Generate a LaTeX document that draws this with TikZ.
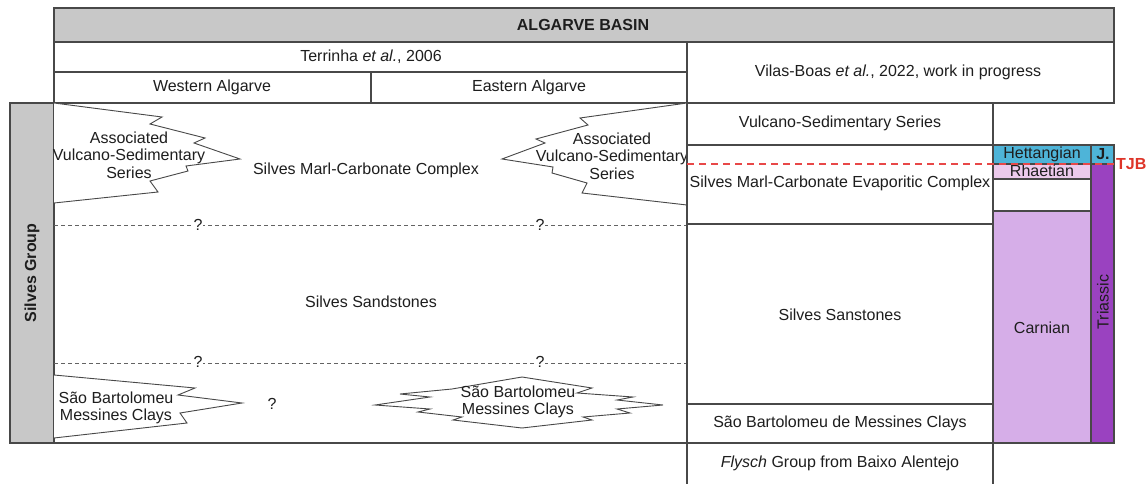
\documentclass[tikz,border=0pt]{standalone}
\usepackage{fontspec}
\setmainfont{Liberation Sans}
\definecolor{linegray}{RGB}{72,72,72}
\definecolor{headgray}{RGB}{200,200,200}
\definecolor{txtgray}{RGB}{30,30,30}
\definecolor{hettblue}{RGB}{78,180,216}
\definecolor{rhaetpink}{RGB}{236,202,236}
\definecolor{carnlilac}{RGB}{214,174,232}
\definecolor{triaspurple}{RGB}{154,66,192}
\definecolor{tjbred}{RGB}{222,52,40}
\definecolor{tjbdash}{RGB}{232,72,72}
\begin{document}
\begin{tikzpicture}[x=1pt,y=-1pt,
  cell/.style={draw=linegray, line width=1.1pt},
  zig/.style={draw=linegray, line width=0.9pt, fill=white, line join=miter},
  txt/.style={font=\fontsize{16}{17.5}\selectfont, text=txtgray, inner sep=0pt, align=center},
  btxt/.style={txt, font=\fontsize{16}{17.5}\selectfont\bfseries},
  qmark/.style={txt, fill=white, inner sep=1pt},
  unsure/.style={draw=linegray!85, line width=0.8pt, dash pattern=on 4pt off 3pt}]

\useasboundingbox (0,0) rectangle (1148,484);
\fill[white] (0,0) rectangle (1148,484);

% header rows
\draw[cell, fill=headgray] (54,8) rectangle (1114,42);
\node[btxt] (basin) at (583,25) {ALGARVE BASIN};
\draw[cell] (54,42) rectangle (687,72);
\node[txt] (terrinha) at (371,57) {Terrinha \textit{et al.}, 2006};
\draw[cell] (54,72) rectangle (371,103);
\draw[cell] (371,72) rectangle (687,103);
\node[txt] (west) at (212,87) {Western Algarve};
\node[txt] (east) at (529,87) {Eastern Algarve};
\draw[cell] (687,42) rectangle (1114,103);
\node[txt] (vilas) at (898,72) {Vilas-Boas \textit{et al.}, 2022, work in progress};

% Silves Group column and left correlation panel
\draw[cell, fill=headgray] (10,103) rectangle (54,443);
\node[btxt, rotate=90] (silvesgroup) at (32,273) {Silves Group};
\draw[cell] (54,103) rectangle (687,443);

% interfingering wedges, upper panel
\draw[zig] (54,103) -- (162,117) -- (150,124) -- (205,138) -- (194,143) -- (240,159)
  -- (186,166) -- (188,171) -- (150,181) -- (158,192) -- (54,203);
\draw[zig] (687,103) -- (580,118) -- (588,125) -- (536,139) -- (545,143) -- (502,159)
  -- (553,167) -- (552,173) -- (587,183) -- (582,193) -- (687,205);
\node[txt] (avsw) at (129,155) {Associated\\Vulcano-Sedimentary\\Series};
\node[txt] (avse) at (612,156) {Associated\\Vulcano-Sedimentary\\Series};
\node[txt] (smcc) at (366,170) {Silves Marl-Carbonate Complex};

% uncertain boundaries
\draw[unsure] (54,225) -- (687,225);
\draw[unsure] (54,363) -- (687,363);
\node[qmark] (q1) at (198,225) {?};
\node[qmark] (q2) at (540,225) {?};
\node[qmark] (q3) at (198,362) {?};
\node[qmark] (q4) at (540,362) {?};

\node[txt] (sandst) at (371,302) {Silves Sandstones};

% lower panel wedges
\draw[zig] (54,375) -- (195,388) -- (178,395) -- (242,403) -- (180,413) -- (187,423) -- (54,438);
\node[txt] (sbmcw) at (116,408) {São Bartolomeu\\Messines Clays};
\node[txt] (q5) at (272,404) {?};
\draw[zig] (375,405) -- (430,397) -- (400,394) -- (452,389) -- (522,377) -- (592,388)
  -- (577,393) -- (633,397) -- (617,400) -- (663,405) -- (617,409) -- (630,413)
  -- (583,417) -- (592,420) -- (522,428) -- (453,420) -- (462,417) -- (418,412)
  -- (430,409) -- cycle;
\node[txt] (sbmce) at (518,402) {São Bartolomeu\\Messines Clays};

% right-hand succession
\draw[cell] (687,103) rectangle (993,145);
\node[txt] (vss) at (840,123) {Vulcano-Sedimentary Series};
\draw[cell] (687,145) rectangle (993,224);
\node[txt] (smcec) at (840,183) {Silves Marl-Carbonate Evaporitic Complex};
\draw[cell] (687,224) rectangle (993,404);
\node[txt] (sanst) at (840,315) {Silves Sanstones};
\draw[cell] (687,404) rectangle (993,443);
\node[txt] (sbmcr) at (840,423) {São Bartolomeu de Messines Clays};
\draw[cell] (687,443) rectangle (993,490);
\node[txt] (flysch) at (840,463) {\textit{Flysch} Group from Baixo Alentejo};

% chronostratigraphy
\draw[cell, fill=hettblue] (993,145) rectangle (1091,164);
\node[txt] (hett) at (1042,154) {Hettangian};
\draw[cell, fill=rhaetpink] (993,164) rectangle (1091,179);
\node[txt] (rhaet) at (1042,171) {Rhaetian};
\draw[cell] (993,179) rectangle (1091,211);
\draw[cell, fill=carnlilac] (993,211) rectangle (1091,443);
\node[txt] (carn) at (1042,328) {Carnian};
\draw[cell, fill=hettblue] (1091,145) rectangle (1114,164);
\node[btxt] (jur) at (1103,154) {J.};
\draw[cell, fill=triaspurple] (1091,164) rectangle (1114,443);
\node[txt, rotate=90] (trias) at (1103,302) {Triassic};

% Triassic-Jurassic boundary
\coordinate (tjbstart) at (687,164);
\node[btxt, text=tjbred, anchor=west] (tjb) at (1116,164) {TJB};
\draw[tjbdash, line width=1.1pt, dash pattern=on 7pt off 5pt] (tjbstart) -- (tjb.west);

\end{tikzpicture}
\end{document}
